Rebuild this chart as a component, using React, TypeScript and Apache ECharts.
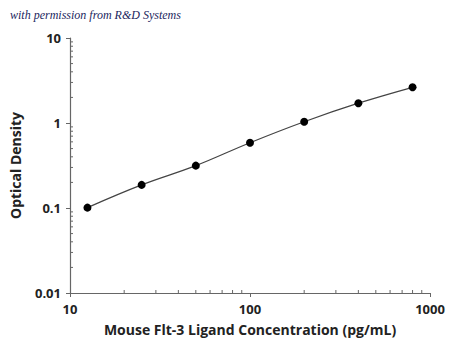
import React, { useEffect, useRef } from "react";
import * as echarts from "echarts";

const concentrations = [12.5, 25, 50, 100, 200, 400, 800];
const opticalDensity = [0.101, 0.187, 0.315, 0.586, 1.035, 1.71, 2.63];
const xMinorTicks = [20, 30, 40, 50, 60, 70, 80, 90, 200, 300, 400, 500, 600, 700, 800, 900];
const yMinorTicks = [0.02, 0.03, 0.04, 0.05, 0.06, 0.07, 0.08, 0.09, 0.2, 0.3, 0.4, 0.5, 0.6, 0.7, 0.8, 0.9, 2, 3, 4, 5, 6, 7, 8, 9];
const titleText = "with permission from R&D Systems";
const xName = "Mouse Flt-3 Ligand Concentration (pg/mL)";
const yName = "Optical Density";

const AXIS_COLOR = "#666";
const FONT = "'Open Sans', 'Noto Sans', sans-serif";

export default function App() {
  const ref = useRef<HTMLDivElement>(null);
  useEffect(() => {
    if (!ref.current) return;
    const chart = echarts.init(ref.current, undefined, { renderer: "svg" });
    const tickItem = (kind: "x" | "y") => (params: any, api: any) => {
      const v = api.value(0);
      const w = api.value(1);
      const p = api.coord([v, w]);
      const shape =
        kind === "x"
          ? { x1: p[0], y1: p[1], x2: p[0], y2: p[1] - 3 }
          : { x1: p[0], y1: p[1], x2: p[0] + 3, y2: p[1] };
      return { type: "line", shape, style: { stroke: AXIS_COLOR, lineWidth: 1 } };
    };
    const fmt = (v: number) => String(v);
    chart.setOption({
      animation: false,
      backgroundColor: "#fff",
      graphic: [
        {
          type: "text",
          left: 10,
          top: 9,
          style: {
            text: titleText,
            font: "italic 12px 'Liberation Serif', serif",
            fill: "#1c2660",
          },
        },
      ],
      grid: { left: 66, right: 20, top: 38, bottom: 55 },
      xAxis: {
        type: "log",
        logBase: 10,
        min: 10,
        max: 1000,
        name: xName,
        nameLocation: "middle",
        nameGap: 29,
        nameTextStyle: { fontFamily: FONT, fontWeight: "bold", fontSize: 14, color: "#222" },
        axisLine: { lineStyle: { color: AXIS_COLOR, width: 1.2 } },
        axisTick: { show: true, length: 4, lineStyle: { color: AXIS_COLOR } },
        axisLabel: { fontFamily: FONT, fontWeight: "bold", fontSize: 13, color: "#222", margin: 9, formatter: fmt },
        splitLine: { show: false },
      },
      yAxis: {
        type: "log",
        logBase: 10,
        min: 0.01,
        max: 10,
        name: yName,
        nameLocation: "middle",
        nameGap: 48,
        nameTextStyle: { fontFamily: FONT, fontWeight: "bold", fontSize: 14, color: "#222" },
        axisLine: { show: true, lineStyle: { color: AXIS_COLOR, width: 1.2 } },
        axisTick: { show: true, length: 4, lineStyle: { color: AXIS_COLOR } },
        axisLabel: { fontFamily: FONT, fontWeight: "bold", fontSize: 13, color: "#222", margin: 9, formatter: fmt },
        splitLine: { show: false },
      },
      series: [
        {
          type: "custom",
          renderItem: tickItem("x"),
          data: xMinorTicks.map((v) => [v, 0.01]),
          silent: true,
          z: 1,
        },
        {
          type: "custom",
          renderItem: tickItem("y"),
          data: yMinorTicks.map((v) => [10, v]),
          silent: true,
          z: 1,
        },
        {
          type: "line",
          data: concentrations.map((c, i) => [c, opticalDensity[i]]),
          smooth: 0.4,
          symbol: "circle",
          symbolSize: 8,
          itemStyle: { color: "#000" },
          lineStyle: { color: "#444", width: 1.2 },
          z: 3,
        },
      ],
    });
    return () => chart.dispose();
  }, []);
  return <div ref={ref} style={{ position: "fixed", left: 0, top: 0, width: 450, height: 348 }} />;
}
